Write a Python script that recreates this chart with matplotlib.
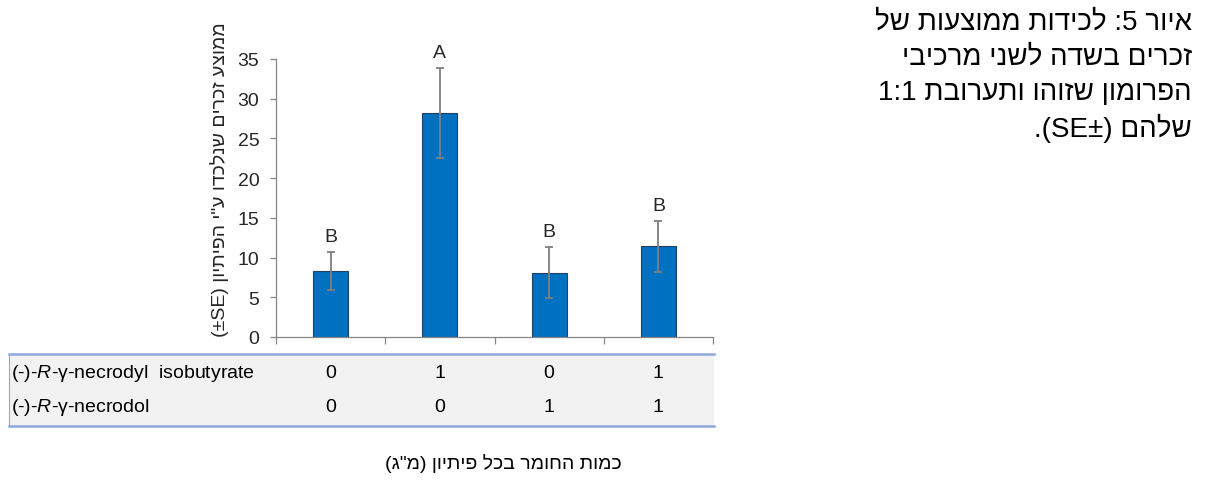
import re
import matplotlib
matplotlib.use("Agg")
import matplotlib.pyplot as plt
from matplotlib.patches import Rectangle
from matplotlib.lines import Line2D
from matplotlib.transforms import blended_transform_factory

plt.rcParams['font.family'] = ['Liberation Sans', 'DejaVu Sans']
plt.rcParams['mathtext.fontset'] = 'custom'
plt.rcParams['mathtext.rm'] = 'Liberation Sans'
plt.rcParams['mathtext.it'] = 'Liberation Sans:italic'

# --- data ---
treatments = ["T1", "T2", "T3", "T4"]
mean_males = [8.35, 28.2, 8.1, 11.4]
se_males = [2.4, 5.7, 3.2, 3.2]
group_letters = ["B", "A", "B", "B"]
row_labels = ["(-)-$\\mathit{R}$-γ-necrodyl  isobutyrate", "(-)-$\\mathit{R}$-γ-necrodol"]
isobutyrate_mg = [0, 1, 0, 1]
necrodol_mg = [0, 0, 1, 1]
y_ticks = [0, 5, 10, 15, 20, 25, 30, 35]

y_label = "ממוצע זכרים שנלכדו ע\"י הפיתיון (SE±)"
x_caption = "כמות החומר בכל פיתיון (מ\"ג)"
figure_caption = [
    "איור 5: לכידות ממוצעות של",
    "זכרים בשדה לשני מרכיבי",
    "הפרומון שזוהו ותערובת 1:1",
    "שלהם (±SE).",
]

MIRROR = {"(": ")", ")": "(", "[": "]", "]": "["}


def rtl(text):
    """Minimal right-to-left reordering: keep Latin/number runs, reverse the rest."""
    tokens = re.findall(r"[A-Za-z0-9]+(?::[0-9]+)*|.", text)
    out = []
    for tok in reversed(tokens):
        if len(tok) == 1:
            tok = MIRROR.get(tok, tok)
        out.append(tok)
    return "".join(out)


W, H = 1206, 481
fig = plt.figure(figsize=(W / 100, H / 100), dpi=100)


def fx(px):
    return px / W


def fy(py):
    return 1 - py / H


ax_left, ax_right, ax_top, ax_bottom = 276, 713, 60, 338
ax = fig.add_axes([fx(ax_left), fy(ax_bottom), fx(ax_right - ax_left), (ax_bottom - ax_top) / H])

x = list(range(len(treatments)))
axis_grey = "#868686"
ax.bar(x, mean_males, width=0.32, color="#0070C0", edgecolor="#243F60", linewidth=0.8, zorder=2)
ax.errorbar(x, mean_males, yerr=se_males, fmt="none", ecolor="#7F7F7F", elinewidth=1.3,
            capsize=3, capthick=1.3, zorder=3)
for xi, m, s, letter in zip(x, mean_males, se_males, group_letters):
    ax.annotate(letter, (xi, m + s), xytext=(0, 5), textcoords="offset points",
                ha="center", va="bottom", fontsize=14, color="#262626")

ax.set_xlim(-0.5, len(treatments) - 0.5)
ax.set_ylim(0, 35)
ax.set_yticks(y_ticks)
ax.tick_params(axis="y", labelsize=14, labelcolor="#262626", color=axis_grey,
               length=4, width=0.9, direction="out", pad=8)
ax.set_xticks([i - 0.5 for i in range(len(treatments) + 1)])
ax.set_xticklabels([])
ax.tick_params(axis="x", color=axis_grey, length=5, width=0.9, direction="out")
for side in ("top", "right"):
    ax.spines[side].set_visible(False)
for side in ("left", "bottom"):
    ax.spines[side].set_color(axis_grey)
    ax.spines[side].set_linewidth(0.9)

# vertical axis title
fig.text(fx(220), fy(180), rtl(y_label), rotation=90, ha="center", va="center",
         fontsize=14, color="#262626")

# data table under the bars
tbl_left, tbl_right, tbl_top, tbl_bottom = 9, 714, 355, 427
fig.add_artist(Rectangle((fx(tbl_left), fy(tbl_bottom)), fx(tbl_right - tbl_left),
                         (tbl_bottom - tbl_top) / H, transform=fig.transFigure,
                         facecolor="#F2F2F2", edgecolor="none", zorder=0))
for py in (tbl_top, tbl_bottom):
    fig.add_artist(Line2D([fx(tbl_left), fx(tbl_right)], [fy(py), fy(py)],
                          transform=fig.transFigure, color="#8EA9DB", linewidth=1.8))
fig.add_artist(Line2D([fx(tbl_left), fx(tbl_left)], [fy(tbl_top), fy(tbl_bottom)],
                      transform=fig.transFigure, color="#A6A6A6", linewidth=0.8))

blend = blended_transform_factory(ax.transData, fig.transFigure)
row_y = [374, 408]
for label, values, py in zip(row_labels, [isobutyrate_mg, necrodol_mg], row_y):
    fig.text(fx(11), fy(py), label, ha="left", va="center", fontsize=14, color="#000000")
    for xi, v in zip(x, values):
        fig.text(xi, fy(py), str(v), transform=blend, ha="center", va="center",
                 fontsize=14, color="#000000")

# horizontal caption
fig.text(fx(503), fy(464), rtl(x_caption), ha="center", va="center", fontsize=14,
         color="#000000")

# figure caption, right-aligned
for i, line in enumerate(figure_caption):
    fig.text(fx(1192), fy(23 + 35 * i), rtl(line), ha="right", va="center",
             fontsize=20, color="#000000")

fig.savefig("out.png", dpi=100, facecolor="white")
